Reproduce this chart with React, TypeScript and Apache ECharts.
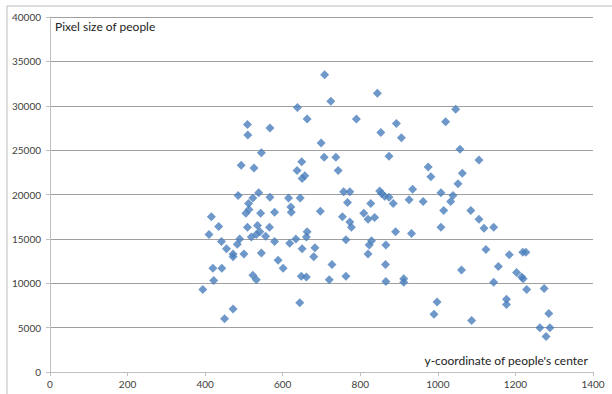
import React, { useEffect, useRef } from "react";
import * as echarts from "echarts";

const xValues = [
  708, 724, 638, 663, 509, 510, 567, 699, 545, 707, 737, 743, 493, 526, 649, 637, 657, 650,
  485, 538, 523, 567, 615, 645, 512, 621, 416, 505, 513, 543, 579, 622, 697,
  435, 410, 509, 535, 566, 541, 532, 556, 519, 489, 442, 483, 579, 618, 634, 663, 661,
  650, 683, 455, 472, 472, 500, 545, 680, 588, 601, 420, 443, 727, 523, 532, 648, 661,
  720, 422, 394, 644, 472, 450,
  844, 790, 893, 853, 906, 1046, 1020, 874, 1057, 1106, 975, 982, 1063, 1052, 757, 773,
  767, 850, 855, 863, 874, 885, 827, 935, 926, 962, 1008, 1039, 1033, 1015, 1085, 754,
  809, 820, 837, 773, 777, 1106, 1008, 891, 932, 763, 829, 823, 866, 820, 865, 1061,
  763, 866, 912, 912, 998, 990, 1087,
  1119, 1144, 1124, 1184, 1219, 1227, 1156, 1203, 1216, 1220, 1144, 1229, 1274, 1177,
  1177, 1286, 1263, 1289, 1279,
];

const yValues = [
  33500, 30500, 29800, 28500, 27900, 26700, 27500, 25800, 24700, 24200, 24200, 22700, 23300,
  23000, 23700, 22700, 22100, 21800,
  19900, 20200, 19600, 19700, 19600, 19600, 19000, 18600, 17500, 17900, 18300, 17900, 18000,
  18000, 18100,
  16400, 15500, 16300, 16500, 16300, 15800, 15500, 15300, 15200, 15000, 14700, 14400, 14700,
  14500, 15000, 15800, 15200,
  13900, 14000, 13900, 13300, 13000, 13300, 13400, 13000, 12600, 11700, 11700, 11700, 12100,
  10900, 10400, 10800, 10700,
  10400, 10300, 9300, 7800, 7100, 6000,
  31400, 28500, 28000, 27000, 26400, 29600, 28200, 24300, 25100, 23900, 23100, 22000, 22400,
  21200, 20300, 20300,
  19100, 20400, 20100, 19800, 19700, 19000, 19000, 20600, 19400, 19200, 20200, 19900, 19200,
  18200, 18200, 17500,
  17900, 17200, 17400, 16900, 16300, 17200, 16300, 15800, 15600, 14900, 14800, 14300, 14300,
  13300, 12100, 11500,
  10800, 10200, 10500, 10100, 7900, 6500, 5800,
  16200, 16300, 13800, 13200, 13500, 13500, 11900, 11200, 10700, 10500, 10100, 9300, 9400,
  8200, 7600, 6600, 5000, 5000, 4000,
];

const xTicks = [0, 200, 400, 600, 800, 1000, 1200, 1400];
const yTicks = [0, 5000, 10000, 15000, 20000, 25000, 30000, 35000, 40000];
const yTitle = "Pixel size of people";
const xTitle = "y-coordinate of people's center";

export default function App() {
  const ref = useRef<HTMLDivElement>(null);
  useEffect(() => {
    if (!ref.current) return;
    const chart = echarts.init(ref.current, undefined, { renderer: "svg" });
    const points = xValues.map((x, i) => [x, yValues[i]]);
    const font = "Lato, 'Open Sans', sans-serif";
    chart.setOption({
      animation: false,
      backgroundColor: "#ffffff",
      grid: { left: 50, right: 19, top: 17, bottom: 22, containLabel: false },
      xAxis: {
        type: "value",
        min: xTicks[0],
        max: xTicks[xTicks.length - 1],
        interval: 200,
        axisLine: { show: true, lineStyle: { color: "#bfbfbf", width: 1 } },
        axisTick: { show: true, length: 4, inside: false, lineStyle: { color: "#bfbfbf" } },
        splitLine: { show: false },
        axisLabel: {
          color: "#404040",
          fontSize: 10,
          fontFamily: font,
          margin: 7,
          formatter: (v: number) => String(v),
        },
      },
      yAxis: {
        type: "value",
        min: yTicks[0],
        max: yTicks[yTicks.length - 1],
        interval: 5000,
        axisLine: { show: true, lineStyle: { color: "#bfbfbf", width: 1 } },
        axisTick: { show: true, length: 4, inside: false, lineStyle: { color: "#bfbfbf" } },
        splitLine: { show: true, lineStyle: { color: "#a0a0a0", width: 1 } },
        axisLabel: {
          color: "#404040",
          fontSize: 10,
          fontFamily: font,
          margin: 9,
          formatter: (v: number) => String(v),
        },
      },
      graphic: [
        {
          type: "rect",
          shape: { x: 7, y: 6, width: 700, height: 500 },
          style: { fill: "none", stroke: "#bcbcbc", lineWidth: 1 },
          silent: true,
          z: -10,
        },
        {
          type: "text",
          left: 55,
          top: 20,
          style: { text: yTitle, fontSize: 12, fontFamily: font, fill: "#222222" },
        },
        {
          type: "text",
          right: 24,
          top: 354,
          style: { text: xTitle, fontSize: 12, fontFamily: font, fill: "#222222" },
        },
      ],
      series: [
        {
          type: "scatter",
          data: points,
          symbol: "diamond",
          symbolSize: 9,
          itemStyle: { color: "#4a7ebb" },
        },
      ],
    });
    return () => chart.dispose();
  }, []);
  return (
    <div
      ref={ref}
      style={{ position: "fixed", left: 0, top: 0, width: 612, height: 394 }}
    />
  );
}
